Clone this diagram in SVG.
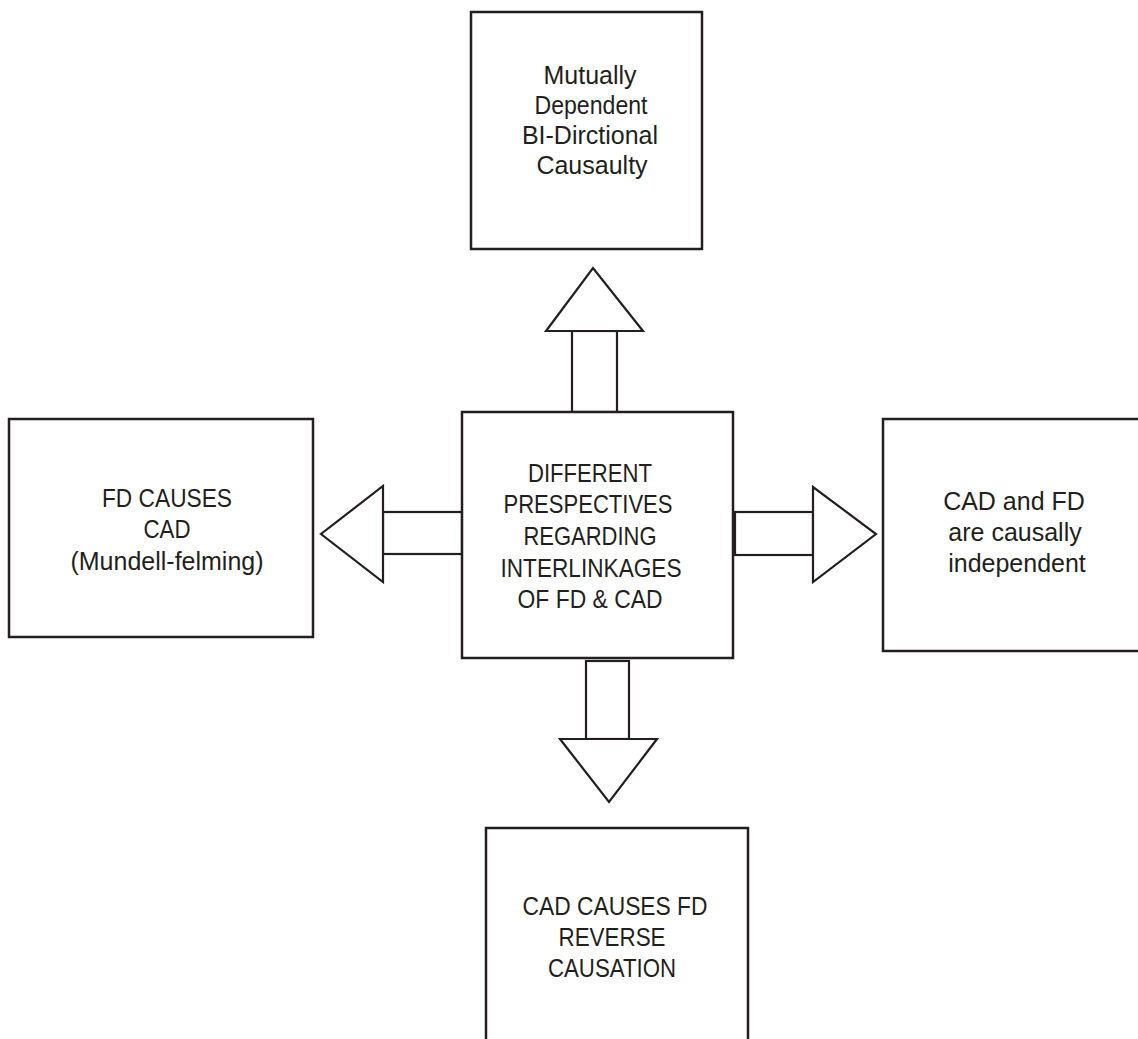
<svg xmlns="http://www.w3.org/2000/svg" width="1138" height="1039" viewBox="0 0 1138 1039">
<style>
.box{fill:#fff;stroke:#231f20;stroke-width:2.5}
.arr{fill:#fff;stroke:#231f20;stroke-width:2.2;stroke-linejoin:miter}
.t{font-family:"Liberation Sans",Arial,sans-serif;font-size:25px;fill:#231f20;text-anchor:middle}
</style>
<rect width="1138" height="1039" fill="#fff"/>
<g id="connectors">
  <g id="arrow-up">
    <rect class="arr" x="572" y="331" width="45" height="81"/>
    <polygon class="arr" points="546,331 643,331 593,268"/>
  </g>
  <g id="arrow-left">
    <rect class="arr" x="383" y="512" width="79" height="42"/>
    <polygon class="arr" points="383,486 383,582 321,534"/>
  </g>
  <g id="arrow-right">
    <rect class="arr" x="735" y="512" width="78" height="43"/>
    <polygon class="arr" points="813,487 813,582 876,534"/>
  </g>
  <g id="arrow-down">
    <rect class="arr" x="586" y="661" width="43" height="78"/>
    <polygon class="arr" points="560,739 657,739 609,802"/>
  </g>
</g>
<g id="node-top">
  <rect class="box" x="471" y="12" width="231" height="237"/>
  <text class="t" x="590" y="84">Mutually</text>
  <text class="t" x="591" y="114" textLength="113" lengthAdjust="spacingAndGlyphs">Dependent</text>
  <text class="t" x="590" y="144">BI-Dirctional</text>
  <text class="t" x="592" y="174">Causaulty</text>
</g>
<g id="node-center">
  <rect class="box" x="462" y="412" width="271" height="246"/>
  <text class="t" x="590" y="482" textLength="124" lengthAdjust="spacingAndGlyphs">DIFFERENT</text>
  <text class="t" x="588" y="513" textLength="169" lengthAdjust="spacingAndGlyphs">PRESPECTIVES</text>
  <text class="t" x="590" y="545" textLength="133" lengthAdjust="spacingAndGlyphs">REGARDING</text>
  <text class="t" x="591" y="577" textLength="181" lengthAdjust="spacingAndGlyphs">INTERLINKAGES</text>
  <text class="t" x="590" y="608" textLength="145" lengthAdjust="spacingAndGlyphs">OF FD &amp; CAD</text>
</g>
<g id="node-left">
  <rect class="box" x="9" y="419" width="304" height="218"/>
  <text class="t" x="167" y="507" textLength="130" lengthAdjust="spacingAndGlyphs">FD CAUSES</text>
  <text class="t" x="167" y="538" textLength="47" lengthAdjust="spacingAndGlyphs">CAD</text>
  <text class="t" x="167" y="570">(Mundell-felming)</text>
</g>
<g id="node-right">
  <rect class="box" x="883" y="419" width="270" height="232"/>
  <text class="t" x="1014" y="510">CAD and FD</text>
  <text class="t" x="1015" y="541">are causally</text>
  <text class="t" x="1017" y="572">independent</text>
</g>
<g id="node-bottom">
  <rect class="box" x="486" y="828" width="262" height="230"/>
  <text class="t" x="615" y="915" textLength="185" lengthAdjust="spacingAndGlyphs">CAD CAUSES FD</text>
  <text class="t" x="612" y="946" textLength="107" lengthAdjust="spacingAndGlyphs">REVERSE</text>
  <text class="t" x="612" y="977" textLength="128" lengthAdjust="spacingAndGlyphs">CAUSATION</text>
</g>
</svg>
